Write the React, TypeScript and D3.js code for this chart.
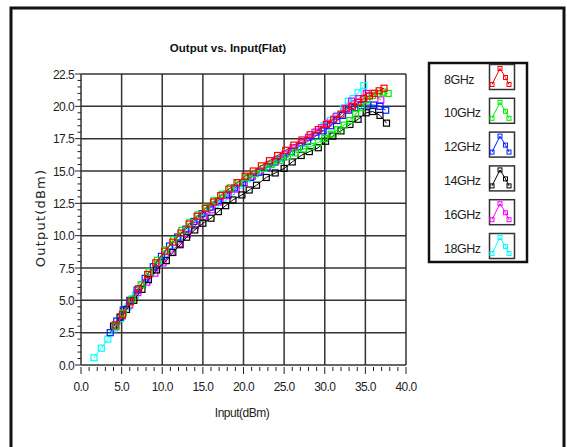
import * as d3 from 'd3'

type Pt = [number, number]

const xTicks = [0, 5, 10, 15, 20, 25, 30, 35, 40]
const yTicks = [0, 2.5, 5, 7.5, 10, 12.5, 15, 17.5, 20, 22.5]

const seriesNames = ['8GHz', '10GHz', '12GHz', '14GHz', '16GHz', '18GHz']
const seriesColors = ['#ff0000', '#00ee00', '#0022ff', '#000000', '#ff00ff', '#00ffff']

// Output (dBm) vs Input (dBm)
const s8GHz: Pt[] = [
  [4.2, 3.1], [5.1, 3.9], [6.1, 4.9], [7.1, 5.9], [8.2, 7.0], [9.2, 7.9], [10.3, 8.8], [11.3, 9.5],
  [12.3, 10.2], [13.3, 10.9], [14.3, 11.5], [15.3, 12.1], [16.3, 12.6], [17.2, 13.1], [18.2, 13.6],
  [19.2, 14.1], [20.2, 14.6], [21.2, 15.0], [22.2, 15.4], [23.2, 15.8], [24.2, 16.2], [25.2, 16.6],
  [26.2, 17.0], [27.2, 17.4], [28.2, 17.8], [29.2, 18.2], [30.2, 18.6], [31.1, 19.0], [32.0, 19.4],
  [32.7, 19.8], [33.4, 20.0], [34.1, 20.3], [34.8, 20.6], [35.5, 20.8], [36.1, 21.0], [36.7, 21.2], [37.3, 21.4],
]
const s10GHz: Pt[] = [
  [4.3, 3.0], [5.2, 4.0], [6.3, 5.1], [7.4, 6.2], [8.4, 7.2], [9.4, 8.1], [10.4, 8.9], [11.4, 9.7],
  [12.4, 10.4], [13.4, 11.0], [14.4, 11.6], [15.4, 12.2], [16.4, 12.7], [17.4, 13.2], [18.4, 13.7],
  [19.4, 14.1], [20.4, 14.5], [21.4, 14.8], [22.4, 15.2], [23.4, 15.5], [24.4, 15.8], [25.4, 16.1],
  [26.4, 16.4], [27.4, 16.7], [28.3, 16.9], [29.2, 17.2], [30.0, 17.5], [30.8, 17.85], [31.6, 18.2],
  [32.4, 18.55], [33.1, 18.9], [33.8, 19.4], [34.5, 19.9], [35.2, 20.5], [35.9, 20.85], [36.6, 21.0],
  [37.2, 21.1], [37.8, 21.0],
]
const s12GHz: Pt[] = [
  [3.6, 2.5], [4.4, 3.4], [5.2, 4.25], [6.0, 5.0], [6.9, 5.8], [7.9, 6.7], [8.9, 7.6], [9.9, 8.4],
  [10.9, 9.2], [11.9, 9.9], [12.9, 10.5], [13.9, 11.1], [14.9, 11.7], [15.9, 12.2], [16.9, 12.7],
  [17.9, 13.2], [18.9, 13.7], [19.9, 14.1], [20.9, 14.5], [21.9, 14.9], [22.9, 15.3], [23.9, 15.7],
  [24.9, 16.1], [25.9, 16.5], [26.9, 16.9], [27.9, 17.3], [28.9, 17.7], [29.8, 18.1], [30.7, 18.5],
  [31.5, 18.9], [32.2, 19.3], [32.9, 19.7], [33.7, 19.9], [34.5, 20.05], [35.3, 20.1], [36.0, 20.1],
  [36.8, 20.0], [37.5, 19.7],
]
const s14GHz: Pt[] = [
  [4.0, 3.0], [4.8, 3.7], [5.6, 4.3], [6.5, 5.0], [7.5, 5.85], [8.3, 6.6], [9.3, 7.35], [10.5, 8.07],
  [11.3, 8.7], [12.2, 9.3], [13.0, 9.88], [14.0, 10.44], [15.0, 10.96], [16.0, 11.35], [16.9, 11.86],
  [17.8, 12.32], [18.7, 12.76], [19.8, 13.15], [20.7, 13.53], [21.6, 13.9], [22.8, 14.5], [23.9, 14.85],
  [25.0, 15.2], [26.0, 15.7], [27.1, 16.2], [28.1, 16.5], [29.2, 16.8], [30.1, 17.3], [31.0, 17.7],
  [32.0, 18.1], [33.1, 18.6], [34.1, 19.0], [35.1, 19.5], [35.9, 19.6], [36.8, 19.3], [37.6, 18.7],
]
const s16GHz: Pt[] = [
  [4.3, 2.96], [5.1, 3.8], [6.0, 4.64], [7.0, 5.6], [8.1, 6.4], [9.1, 7.1], [10.1, 7.9], [11.1, 8.7],
  [12.1, 9.4], [13.1, 10.1], [14.1, 10.8], [15.1, 11.5], [16.1, 12.0], [17.1, 12.6], [18.1, 13.1],
  [19.1, 13.6], [20.1, 14.1], [21.1, 14.6], [22.1, 15.0], [23.1, 15.5], [24.1, 15.9], [25.1, 16.3],
  [26.1, 16.8], [27.1, 17.2], [28.0, 17.6], [28.8, 18.0], [29.6, 18.35], [30.4, 18.7], [31.4, 19.2],
  [32.5, 19.85], [33.3, 20.4], [34.2, 20.6], [35.1, 21.0], [35.9, 21.0], [36.9, 20.5],
]
const s18GHz: Pt[] = [
  [1.6, 0.56], [2.5, 1.3], [3.3, 2.0], [4.1, 2.8], [4.9, 3.6], [5.8, 4.5], [6.7, 5.4], [7.6, 6.2],
  [8.5, 7.0], [9.5, 7.8], [10.5, 8.6], [11.5, 9.3], [12.5, 10.0], [13.5, 10.7], [14.5, 11.3],
  [15.5, 11.9], [16.5, 12.4], [17.5, 12.9], [18.5, 13.4], [19.5, 13.9], [20.5, 14.4], [21.5, 14.8],
  [22.5, 15.2], [23.5, 15.6], [24.5, 16.0], [25.4, 16.4], [26.3, 16.8], [27.2, 17.2], [28.1, 17.6],
  [29.0, 18.0], [29.9, 18.5], [30.7, 18.9], [31.5, 19.3], [32.3, 19.85], [32.9, 20.4], [33.5, 20.6],
  [34.1, 21.05], [34.8, 21.6],
]

const seriesData = [s8GHz, s10GHz, s12GHz, s14GHz, s16GHz, s18GHz]

const W = 567
const H = 447
const plot = { left: 81, right: 406, top: 74, bottom: 365 }
const tickFont = "'Liberation Sans', Arial, sans-serif"

export default function App() {
  const x = d3.scaleLinear().domain([0, 40]).range([plot.left, plot.right])
  const y = d3.scaleLinear().domain([0, 22.5]).range([plot.bottom, plot.top])
  const line = d3.line<Pt>().x(d => x(d[0])).y(d => y(d[1]))

  const xMinor = d3.range(0, 40.001, 1).filter(v => v % 5 !== 0)
  const yMinor = d3.range(0, 22.501, 0.5).filter(v => Math.abs(v / 2.5 - Math.round(v / 2.5)) > 1e-6)

  // draw cyan first, red last
  const order = [5, 4, 3, 2, 1, 0]

  return (
    <svg width={W} height={H} style={{ position: 'absolute', left: 0, top: 0, background: '#fff' }}>
      <rect x={11} y={8} width={553} height={470} fill="#fff" stroke="#111" strokeWidth={3} />

      <text x={228} y={52} textAnchor="middle" fontFamily="'Liberation Sans', Arial, sans-serif"
        fontWeight="bold" fontSize={11.5} fill="#111">Output vs. Input(Flat)</text>

      {/* grid */}
      <rect x={plot.left} y={plot.top} width={plot.right - plot.left} height={plot.bottom - plot.top} fill="#fff" />
      {xTicks.map(t => (
        <line key={'gx' + t} x1={x(t)} x2={x(t)} y1={plot.top} y2={plot.bottom} stroke="#333" strokeWidth={1.5} />
      ))}
      {yTicks.map(t => (
        <line key={'gy' + t} x1={plot.left} x2={plot.right} y1={y(t)} y2={y(t)} stroke="#333" strokeWidth={1.5} />
      ))}

      {/* y axis ticks */}
      {yTicks.map(t => (
        <line key={'ty' + t} x1={plot.left - 6} x2={plot.left} y1={y(t)} y2={y(t)} stroke="#222" strokeWidth={1} />
      ))}
      {yMinor.map(t => (
        <line key={'my' + t} x1={plot.left - 3.5} x2={plot.left} y1={y(t)} y2={y(t)} stroke="#222" strokeWidth={1} />
      ))}
      {yTicks.map(t => (
        <text key={'ly' + t} x={plot.left - 7} y={y(t) + 4.5} textAnchor="end" fontFamily={tickFont}
          fontSize={12} letterSpacing={-0.6} fill="#222">{t.toFixed(1)}</text>
      ))}

      {/* x axis ticks */}
      {xTicks.map(t => (
        <line key={'tx' + t} x1={x(t)} x2={x(t)} y1={plot.bottom + 2} y2={plot.bottom + 9} stroke="#222" strokeWidth={1} />
      ))}
      {xMinor.map(t => (
        <line key={'mx' + t} x1={x(t)} x2={x(t)} y1={plot.bottom + 2} y2={plot.bottom + 6} stroke="#222" strokeWidth={1} />
      ))}
      {xTicks.map(t => (
        <text key={'lx' + t} x={x(t)} y={391} textAnchor="middle" fontFamily={tickFont}
          fontSize={12} letterSpacing={-0.6} fill="#222">{t.toFixed(1)}</text>
      ))}

      <text x={242} y={417} textAnchor="middle" fontFamily={tickFont} fontSize={12}
        letterSpacing={-0.5} fill="#222">Input(dBm)</text>
      <text transform={`translate(45,218) rotate(-90)`} textAnchor="middle"
        fontFamily="'DejaVu Sans', Verdana, sans-serif" fontSize={13} letterSpacing={1.2}
        fill="#222">Output(dBm)</text>

      {/* series */}
      {order.map(i => (
        <g key={seriesNames[i]}>
          <path d={line(seriesData[i]) || ''} fill="none" stroke={seriesColors[i]} strokeWidth={1} />
          {seriesData[i].map((d, j) => (
            <rect key={j} x={x(d[0]) - 3} y={y(d[1]) - 3} width={6} height={6} fill="none"
              stroke={seriesColors[i]} strokeWidth={1.2} />
          ))}
        </g>
      ))}

      {/* legend */}
      <rect x={429} y={63} width={98} height={199} fill="#fff" stroke="#111" strokeWidth={2.5} />
      {seriesNames.map((name, i) => {
        const top = 64.5 + i * 33.8
        const icon: Pt[] = [[2.5, 20], [10.5, 4], [16, 13], [19.5, 20]]
        const il = d3.line<Pt>().x(d => 489.5 + d[0]).y(d => top + d[1])
        return (
          <g key={'lg' + name}>
            <text x={444} y={top + 19} fontFamily={tickFont} fontSize={12.5} letterSpacing={-0.5}
              fill="#222">{name}</text>
            <rect x={489.5} y={top} width={25} height={25} fill="#fff" stroke="#333" strokeWidth={1.5} />
            <path d={il(icon) || ''} fill="none" stroke={seriesColors[i]} strokeWidth={1} />
            {icon.map((p, k) => (
              <rect key={k} x={489.5 + p[0] - 2} y={top + p[1] - 2} width={4} height={4} fill="none"
                stroke={seriesColors[i]} strokeWidth={1} />
            ))}
          </g>
        )
      })}
    </svg>
  )
}
